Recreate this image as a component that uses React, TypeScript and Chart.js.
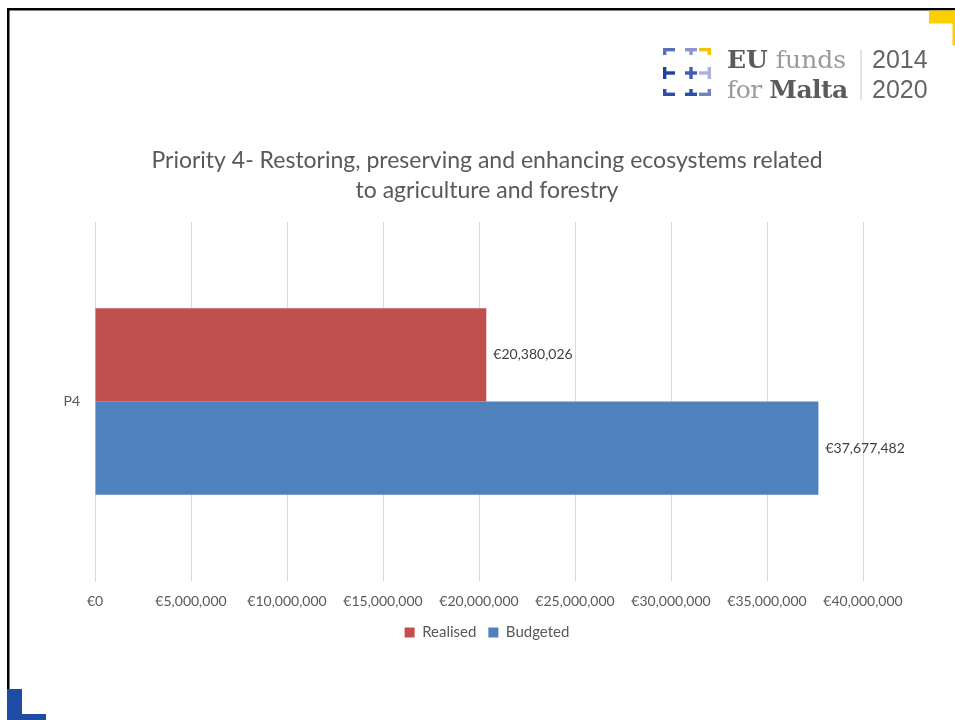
import React, { useEffect, useRef } from "react";
import { Chart, registerables } from "chart.js";

Chart.register(...registerables);

const categories = ["P4"];
const realised = [20380026];
const budgeted = [37677482];
const seriesNames = ["Realised", "Budgeted"];
const titleLines = [
  "Priority 4- Restoring, preserving and enhancing ecosystems related",
  "to agriculture and forestry",
];
const xMin = 0;
const xMax = 40000000;
const xStep = 5000000;

const FONT = "Lato, 'Open Sans', sans-serif";
const fmt = (v: number) => "€" + Math.round(v).toLocaleString("en-US");

const valueLabels = {
  id: "valueLabels",
  afterDatasetsDraw(chart: any) {
    const ctx = chart.ctx;
    ctx.save();
    ctx.font = `14px ${FONT}`;
    ctx.fillStyle = "#404040";
    ctx.textAlign = "left";
    ctx.textBaseline = "middle";
    chart.data.datasets.forEach((ds: any, i: number) => {
      const meta = chart.getDatasetMeta(i);
      meta.data.forEach((el: any, j: number) => {
        ctx.fillText(fmt(ds.data[j]), el.x + 7, el.y);
      });
    });
    ctx.restore();
  },
};

export default function App() {
  const ref = useRef<HTMLCanvasElement | null>(null);
  useEffect(() => {
    if (!ref.current) return;
    const chart = new Chart(ref.current, {
      type: "bar",
      data: {
        labels: categories,
        datasets: [
          { label: seriesNames[0], data: realised, backgroundColor: "#c0504d", yAxisID: "y" },
          { label: seriesNames[1], data: budgeted, backgroundColor: "#4f81bd", yAxisID: "y" },
        ],
      },
      options: {
        indexAxis: "y",
        animation: false,
        responsive: false,
        maintainAspectRatio: false,
        layout: { padding: { top: 146, left: 0, right: 0, bottom: 70 } },
        datasets: { bar: { categoryPercentage: 0.52, barPercentage: 1 } },
        scales: {
          x: {
            min: xMin,
            max: xMax,
            grid: { color: "#d9d9d9", drawTicks: false },
            border: { display: false },
            ticks: {
              stepSize: xStep,
              padding: 12,
              color: "#595959",
              font: { family: FONT, size: 14 },
              callback: (v: any) => fmt(Number(v)),
            },
            afterFit: (s: any) => {
              s.height = 32;
            },
          },
          y: {
            grid: { display: false, drawTicks: false },
            border: { display: true, color: "#d9d9d9" },
            ticks: { padding: 15, color: "#595959", font: { family: FONT, size: 14 } },
            afterFit: (s: any) => {
              s.width = 95;
            },
          },
          yRight: {
            type: "linear",
            position: "right",
            display: true,
            grid: { display: false, drawTicks: false },
            border: { display: false },
            ticks: { display: false },
            afterFit: (s: any) => {
              s.width = 111;
            },
          },
        },
        plugins: {
          title: {
            display: true,
            text: titleLines,
            color: "#595959",
            font: { family: FONT, size: 23, weight: "normal", lineHeight: 30 / 23 },
            padding: { top: 0, bottom: 16 },
          },
          legend: {
            position: "bottom",
            labels: {
              boxWidth: 10,
              boxHeight: 10,
              padding: 12,
              color: "#595959",
              font: { family: FONT, size: 15 },
            },
          },
          tooltip: { enabled: false },
        },
      },
      plugins: [valueLabels],
    });
    return () => chart.destroy();
  }, []);

  const g = (x: number, y: number, c: string, kind: string) => {
    const t = 3.4;
    const w = 12;
    const h = 7;
    const r: any[] = [];
    const R = (a: number, b: number, ww: number, hh: number, k: string) =>
      r.push(<rect key={k} x={x + a} y={y + b} width={ww} height={hh} fill={c} />);
    if (kind === "tl") { R(0, 0, w, t, "a"); R(0, 0, t, h, "b"); }
    if (kind === "t") { R(0, 0, w, t, "a"); R(w / 2 - t / 2, 0, t, h, "b"); }
    if (kind === "tr") { R(0, 0, w, t, "a"); R(w - t, 0, t, h, "b"); }
    if (kind === "l") { R(0, 0, t, 12, "a"); R(0, 6 - t / 2, w, t, "b"); }
    if (kind === "p") { R(w / 2 - t / 2, 0, t, 12, "a"); R(0, 6 - t / 2, w, t, "b"); }
    if (kind === "r") { R(w - t, 0, t, 12, "a"); R(0, 6 - t / 2, w, t, "b"); }
    if (kind === "bl") { R(0, h - t, w, t, "a"); R(0, 0, t, h, "b"); }
    if (kind === "b") { R(0, h - t, w, t, "a"); R(w / 2 - t / 2, 0, t, h, "b"); }
    if (kind === "br") { R(0, h - t, w, t, "a"); R(w - t, 0, t, h, "b"); }
    return r;
  };

  return (
    <div
      style={{
        position: "fixed",
        left: 0,
        top: 0,
        width: 955,
        height: 720,
        background: "#fff",
        overflow: "hidden",
      }}
    >
      <canvas ref={ref} width={974} height={720} style={{ position: "absolute", left: 0, top: 0 }} />
      <svg
        width={955}
        height={720}
        style={{ position: "absolute", left: 0, top: 0, pointerEvents: "none" }}
      >
        <rect x={7} y={8} width={948} height={2.5} fill="#000" />
        <rect x={7} y={8} width={2.5} height={712} fill="#000" />
        <rect x={929} y={10.5} width={26} height={13} fill="#fccf00" />
        <rect x={952.5} y={10.5} width={2.5} height={35} fill="#fccf00" />
        <rect x={7} y={689} width={15} height={31} fill="#1e4ba3" />
        <rect x={7} y={714} width={39} height={6} fill="#1e4ba3" />
        {g(663, 48, "#5a6fb8", "tl")}
        {g(685, 48, "#8c96cc", "t")}
        {g(699, 48, "#f5c400", "tr")}
        {g(663, 67, "#1b45a0", "l")}
        {g(685, 67, "#3f5fb5", "p")}
        {g(699, 67, "#aab3dd", "r")}
        {g(663, 89, "#2a51a8", "bl")}
        {g(685, 89, "#2a51a8", "b")}
        {g(699, 89, "#6f82c7", "br")}
        <text x={727} y={68} fontFamily="'DejaVu Serif', serif" fontSize={25} fill="#9a9a9a">
          <tspan fontWeight="bold" fill="#5b5b5b">EU</tspan> funds
        </text>
        <text x={727} y={98} fontFamily="'DejaVu Serif', serif" fontSize={25} fill="#9a9a9a" letterSpacing={-0.5}>
          for <tspan fontWeight="bold" fill="#5b5b5b">Malta</tspan>
        </text>
        <rect x={860.5} y={50} width={1} height={50} fill="#c8c8c8" />
        <text x={872} y={68} fontFamily="'Liberation Sans', sans-serif" fontSize={25} fill="#666">
          2014
        </text>
        <text x={872} y={98} fontFamily="'Liberation Sans', sans-serif" fontSize={25} fill="#666">
          2020
        </text>
      </svg>
    </div>
  );
}
